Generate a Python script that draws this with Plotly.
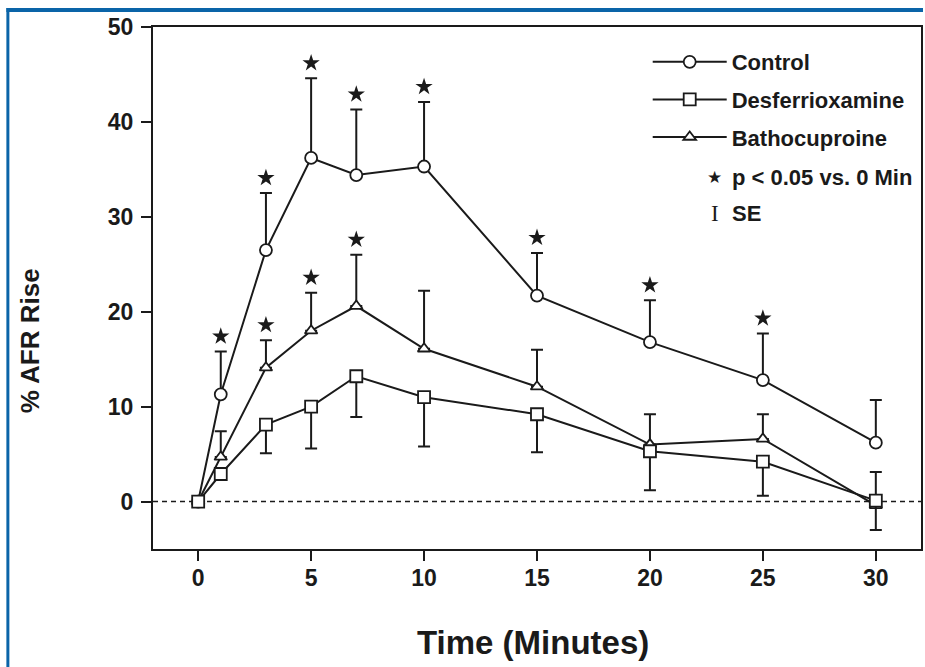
import plotly.graph_objects as go

# ---- data ----
time_min = [0, 1, 3, 5, 7, 10, 15, 20, 25, 30]
control = [0, 11.3, 26.5, 36.2, 34.4, 35.3, 21.7, 16.8, 12.8, 6.2]
control_se = [0, 4.5, 6.0, 8.4, 6.9, 6.8, 4.5, 4.4, 4.9, 4.5]
desferri = [0, 2.9, 8.1, 10.0, 13.2, 11.0, 9.2, 5.3, 4.2, 0.1]
desferri_se = [0, 0, 3.0, 4.4, 4.3, 5.2, 4.0, 4.1, 3.6, 3.1]
batho = [0, 4.7, 14.1, 18.0, 20.6, 16.1, 12.1, 6.0, 6.6, -0.4]
batho_se = [0, 2.7, 2.9, 4.0, 5.4, 6.1, 3.9, 3.2, 2.6, 3.5]
control_sig = [False, True, True, True, True, True, True, True, True, False]
batho_sig = [False, False, True, True, True, False, False, False, False, False]
x_ticks = [0, 5, 10, 15, 20, 25, 30]
y_ticks = [0, 10, 20, 30, 40, 50]

FONT = "Liberation Sans, Arial, Helvetica, sans-serif"
INK = "#1a1a1a"
STAR_GAP = 1.6  # star offset above the SE cap, in axis units

fig = go.Figure()

def series(name, y, se, symbol, size, up, rank):
    zeros = [0] * len(se)
    fig.add_trace(go.Scatter(
        x=time_min, y=y, name=name, mode="lines+markers",
        line=dict(color=INK, width=2),
        marker=dict(symbol=symbol, size=size, color="white",
                    line=dict(color=INK, width=1.8)),
        error_y=dict(type="data", symmetric=False,
                     array=se if up else zeros,
                     arrayminus=zeros if up else se,
                     color=INK, thickness=2, width=6),
        legendrank=rank, legendgroup=name,
    ))

series("Control", control, control_se, "circle", 12, True, 1)
series("Bathocuproine", batho, batho_se, "triangle-up", 11, True, 3)
series("Desferrioxamine", desferri, desferri_se, "square", 12, False, 2)

# significance stars
sx, sy = [], []
for vals, ses, sig in ((control, control_se, control_sig), (batho, batho_se, batho_sig)):
    for t, v, s, g in zip(time_min, vals, ses, sig):
        if g:
            sx.append(t)
            sy.append(v + s + STAR_GAP)
fig.add_trace(go.Scatter(x=sx, y=sy, mode="markers", showlegend=False,
                         marker=dict(symbol="star", size=13, color=INK,
                                     line=dict(width=0))))

# plot geometry helpers (pixels -> paper)
L, T, W, H = 153, 27, 770, 522
def px(x):
    return (x - L) / W
def py(y):
    return (T + H - y) / H

shapes = [
    dict(type="line", xref="paper", yref="y", x0=0, x1=1, y0=0, y1=0,
         line=dict(color=INK, width=1.6, dash="5px,4px"), layer="below"),
    dict(type="rect", xref="paper", yref="paper", x0=px(6), x1=px(925),
         y0=py(12), y1=py(8), fillcolor="#0a64a8", line=dict(width=0)),
    dict(type="rect", xref="paper", yref="paper", x0=px(6), x1=px(9),
         y0=py(667), y1=py(8), fillcolor="#0a64a8", line=dict(width=0)),
]

def note(text, x, y, size, family=FONT, bold=True, xanchor="center", angle=0):
    return dict(text=text, xref="paper", yref="paper", x=px(x), y=py(y),
                xanchor=xanchor, yanchor="middle", textangle=angle, showarrow=False,
                font=dict(family=family, size=size, color=INK,
                          weight="bold" if bold else "normal"))

annotations = [
    note("% AFR Rise", 30, 341, 26, angle=-90),
    note("Time (Minutes)", 534, 642, 33),
    note("★", 716, 177, 17, family="DejaVu Sans", bold=False),
    note("p < 0.05 vs. 0 Min", 732, 177, 22, xanchor="left"),
    note("I", 716, 213, 23, family="Liberation Serif", bold=False),
    note("SE", 732, 213, 22, xanchor="left"),
]

axis_common = dict(showline=True, linecolor=INK, linewidth=2, mirror=True,
                   ticks="outside", tickcolor=INK, tickwidth=2, ticklen=10,
                   showgrid=False, zeroline=False,
                   tickfont=dict(family=FONT, size=23, color=INK, weight="bold"))

fig.update_layout(
    width=925, height=667,
    margin=dict(l=L, r=925 - L - W, t=T, b=667 - T - H),
    paper_bgcolor="white", plot_bgcolor="white",
    xaxis=dict(range=[-2, 32], tickvals=x_ticks, ticklabelstandoff=-3, **axis_common),
    yaxis=dict(range=[-5, 50], tickvals=y_ticks, ticklabelstandoff=3, **axis_common),
    shapes=shapes, annotations=annotations,
    showlegend=True,
    legend=dict(x=px(649), y=py(41), xanchor="left", yanchor="top",
                bgcolor="rgba(0,0,0,0)", itemwidth=74, tracegroupgap=6,
                font=dict(family=FONT, size=22, color=INK, weight="bold")),
)

fig.write_html("out.html",
               config={"displayModeBar": False},
               post_script="document.body.style.margin='0';"
                           "document.body.style.overflow='hidden';")
